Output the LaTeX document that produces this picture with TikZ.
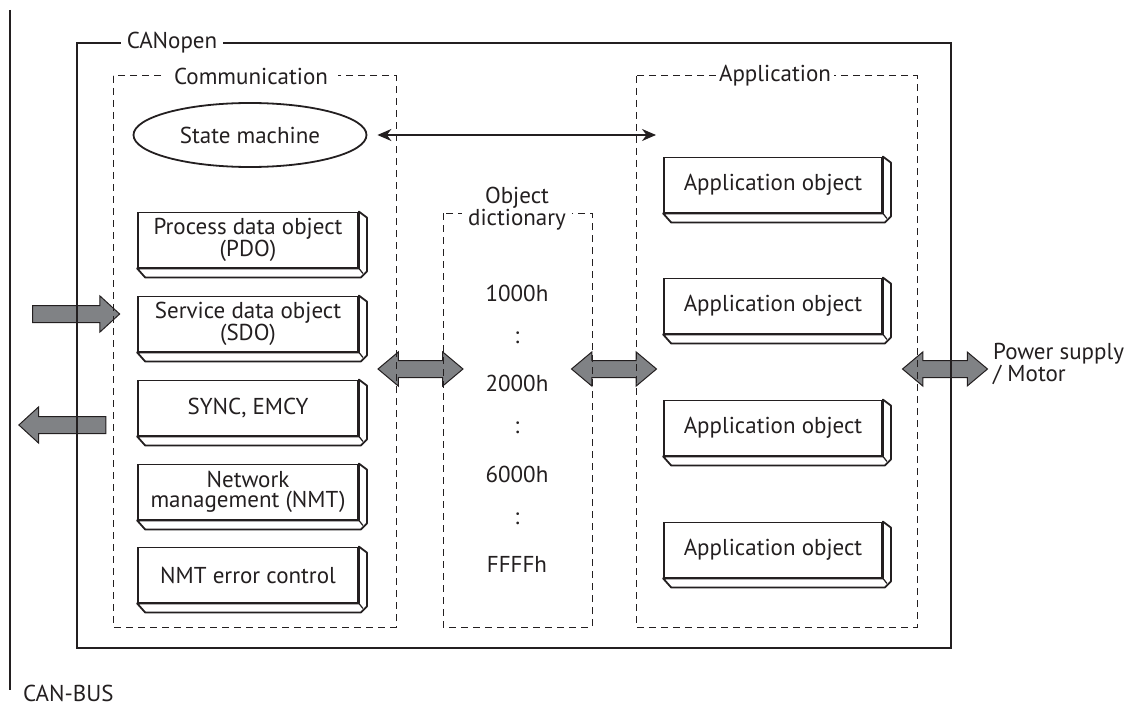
\documentclass[tikz,border=0pt]{standalone}
\usepackage{fontspec}
\setmainfont{PT Sans}
\usetikzlibrary{shapes.geometric,shapes.arrows,arrows.meta,calc}
\definecolor{ink}{HTML}{231F20}
\definecolor{fatgray}{HTML}{808285}
\begin{document}
\begin{tikzpicture}[x=1pt,y=-1pt,
  every node/.style={text=ink},
  lbl/.style={font=\fontsize{23}{20}\selectfont, align=center},
  framebox/.style={draw=ink, line width=2.2pt},
  dbox/.style={draw=ink, line width=1pt, dash pattern=on 7pt off 5pt},
  ttl/.style={lbl, fill=white, inner ysep=0pt},
  slabbox/.style={lbl, draw=ink, line width=1.8pt, fill=white, minimum height=55pt, inner sep=0pt},
  slab/.style={draw=ink, line width=1.8pt, line join=round, fill=white},
  darrow/.style={double arrow, draw=ink, line width=1pt, fill=fatgray, inner xsep=0pt, inner ysep=8pt, double arrow head extend=8.5pt, double arrow tip angle=80, minimum height=85pt},
  sarrow/.style={single arrow, draw=ink, line width=1pt, fill=fatgray, inner xsep=0pt, inner ysep=8pt, single arrow head extend=9.5pt, single arrow tip angle=85, minimum height=87pt},
  tipst/.tip={Stealth[length=14pt,width=12pt]}
]
\useasboundingbox (0,0) rectangle (1138,706);

% fat arrows (drawn first, frames pass over them)
\node[sarrow] (busin) at (71.5,314) {};
\node[sarrow, shape border rotate=180] (busout) at (67,425) {};
\node[darrow] (a1) at (420.5,369) {};
\node[darrow] (a2) at (614,369) {};
\node[darrow] (a3) at (945,369) {};

% CAN-BUS
\coordinate (bustop) at (10,10);
\coordinate (busbot) at (10,690);
\draw[ink, line width=2pt] (bustop) -- (busbot);
\node[lbl, anchor=west, inner sep=0pt] (canbus) at (23,693) {CAN-BUS};

% CANopen frame
\draw[framebox] (77,43) rectangle (951,648);
\node[ttl, inner xsep=6pt] (canopen) at (172,43) {CANopen};

% Communication
\draw[dbox] (113,76) rectangle (396,627);
\node[ttl, inner xsep=10pt] (comm) at (251,76) {Communication};

% Application
\draw[dbox] (636,76) rectangle (917,627);
\node[ttl, inner xsep=3pt] (appl) at (775,76) {Application};

% Object dictionary
\draw[dbox] (443,213) rectangle (592,627);
\node[ttl, inner xsep=6pt, font=\fontsize{23}{18}\selectfont] (od) at (517,209) {Object\\dictionary};

\foreach \t/\yy in {1000h/293, :/338, 2000h/383, :/428, 6000h/474, :/519, FFFFh/564}
  \node[lbl] at (517,\yy) {\t};

% State machine
\node[ellipse, draw=ink, line width=1.8pt, minimum width=233pt, minimum height=64pt, lbl] (sm) at (250,135) {State machine};
\coordinate (appin) at (656,135);
\draw[ink, line width=2pt, tipst-tipst, shorten <=10pt] (sm.east) -- (appin);

% left communication boxes
\foreach \n/\yy/\t in {pdo/240/{Process data object\\(PDO)}, sdo/324/{Service data object\\(SDO)}, sync/408/{SYNC, EMCY}, nmt/492/{Network\\management (NMT)}, nmterr/575/{NMT error control}}{
  \node[slabbox, minimum width=220pt] (\n) at (248,\yy) {\t};
  \draw[slab]
    (\n.south west) -- ++(8,9) -- ($(\n.south east)+(2,9)$) -- ($(\n.south east)+(8,3)$) -- ($(\n.north east)+(8,6)$) -- (\n.north east) -- (\n.south east) -- cycle;
  \draw[ink, line width=1.2pt] (\n.south east) -- ++(4,5);
}

% application objects
\foreach \n/\yy in {ao1/185, ao2/306, ao3/428, ao4/550}{
  \node[slabbox, minimum width=218pt] (\n) at (773,\yy) {Application object};
  \draw[slab]
    (\n.south west) -- ++(8,9) -- ($(\n.south east)+(2,9)$) -- ($(\n.south east)+(8,3)$) -- ($(\n.north east)+(8,6)$) -- (\n.north east) -- (\n.south east) -- cycle;
  \draw[ink, line width=1.2pt] (\n.south east) -- ++(4,5);
}

% Power supply label
\node[lbl, align=left, anchor=west, inner sep=0pt, font=\fontsize{23}{18}\selectfont] (psu) at (993,364) {Power supply\\/ Motor};
\end{tikzpicture}
\end{document}
